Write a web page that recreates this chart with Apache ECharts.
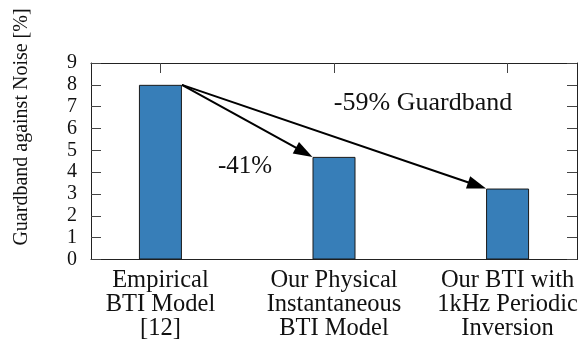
<!DOCTYPE html>
<html>
<head>
<meta charset="utf-8">
<script src="https://cdn.jsdelivr.net/npm/echarts@6/dist/echarts.min.js"></script>
<style>
  html, body { margin: 0; padding: 0; background: #fff; }
  #chart { width: 584px; height: 341px; }
</style>
</head>
<body>
<div id="chart"></div>
<script>
// Guardband needed against noise for three BTI modelling approaches
const categories = [
  'Empirical\nBTI Model\n[12]',
  'Our Physical\nInstantaneous\nBTI Model',
  'Our BTI with\n1kHz Periodic\nInversion'
];
const guardband = [8, 4.7, 3.25];
const yTicks = [0, 1, 2, 3, 4, 5, 6, 7, 8, 9];
// reduction arrows: from bar index -> to bar index
const arrows = [[0, 1], [0, 2]];
const arrowTexts = ['-41%', '-59% Guardband'];

const BAR_W = 43;
const positions = categories.map((_, i) => i);

const chart = echarts.init(document.getElementById('chart'), null, { renderer: 'canvas' });

function arrowItem(params, api) {
  const idx = params.dataIndex;
  const pair = arrows[idx];
  const p0 = api.coord([positions[pair[0]], guardband[pair[0]]]);
  const p1 = api.coord([positions[pair[1]], guardband[pair[1]]]);
  const x0 = p0[0] + BAR_W / 2, y0 = p0[1];
  const x1 = p1[0] - BAR_W / 2, y1 = p1[1];
  const dx = x1 - x0, dy = y1 - y0;
  const len = Math.sqrt(dx * dx + dy * dy);
  const ux = dx / len, uy = dy / len;
  const headL = 19, headW = 6.5;
  const bx = x1 - ux * headL, by = y1 - uy * headL;
  return {
    type: 'group',
    children: [
      { type: 'line', shape: { x1: x0, y1: y0, x2: bx + ux * 2, y2: by + uy * 2 },
        style: { stroke: '#000', lineWidth: 2 } },
      { type: 'polygon', shape: { points: [
          [x1, y1],
          [bx - uy * headW, by + ux * headW],
          [bx + uy * headW, by - ux * headW]
        ] }, style: { fill: '#000' } }
    ]
  };
}

const option = {
  animation: false,
  textStyle: { fontFamily: 'serif' },
  grid: { left: 91, right: 7, top: 63, bottom: 79 },
  xAxis: [
    {
      type: 'value', min: -0.4, max: 2.4, position: 'bottom',
      axisLine: { show: true, onZero: false, lineStyle: { color: '#222', width: 1 } },
      axisTick: { show: false },
      splitLine: { show: false },
      axisLabel: {
        customValues: positions,
        formatter: v => categories[Math.round(v)],
        fontFamily: 'Liberation Serif', fontSize: 24.5, color: '#111', lineHeight: 24,
        margin: 9, align: 'center'
      }
    },
    {
      type: 'value', min: -0.4, max: 2.4, position: 'top',
      axisLine: { show: true, onZero: false, lineStyle: { color: '#222', width: 1 } },
      axisTick: { show: true, inside: true, length: 10, customValues: positions,
                  lineStyle: { color: '#444', width: 1 } },
      axisLabel: { show: false },
      splitLine: { show: false }
    }
  ],
  yAxis: [
    {
      type: 'value', min: 0, max: 9, interval: 1, position: 'left',
      axisLine: { show: true, onZero: false, lineStyle: { color: '#222', width: 1 } },
      axisTick: { show: true, inside: true, length: 10, lineStyle: { color: '#444', width: 1 } },
      splitLine: { show: false },
      axisLabel: {
        fontFamily: 'serif', fontSize: 20, color: '#111', margin: 14,
        formatter: v => String(yTicks[Math.round(v)])
      }
    },
    {
      type: 'value', min: 0, max: 9, interval: 1, position: 'right',
      axisLine: { show: true, onZero: false, lineStyle: { color: '#222', width: 1 } },
      axisTick: { show: true, inside: true, length: 10, lineStyle: { color: '#444', width: 1 } },
      splitLine: { show: false },
      axisLabel: { show: false }
    }
  ],
  series: [
    {
      type: 'bar', xAxisIndex: 0, yAxisIndex: 0,
      barWidth: BAR_W,
      data: positions.map((p, i) => [p, guardband[i]]),
      itemStyle: { color: '#377eb8', borderColor: '#1a1a1a', borderWidth: 1 },
      z: 2
    },
    {
      type: 'custom', xAxisIndex: 0, yAxisIndex: 0,
      data: arrows.map((a, i) => i),
      renderItem: arrowItem,
      z: 5
    }
  ],
  graphic: [
    {
      type: 'text', x: 22, y: 127, rotation: Math.PI / 2,
      style: { text: 'Guardband against Noise [%]', font: '20px "Liberation Serif"',
               fill: '#111', align: 'center', verticalAlign: 'middle' }
    },
    {
      type: 'text', x: 245, y: 166,
      style: { text: arrowTexts[0], font: '25px "Liberation Serif"',
               fill: '#111', align: 'center', verticalAlign: 'middle' }
    },
    {
      type: 'text', x: 423, y: 103,
      style: { text: arrowTexts[1], font: '26px serif',
               fill: '#111', align: 'center', verticalAlign: 'middle' }
    }
  ]
};

chart.setOption(option);
</script>
</body>
</html>
